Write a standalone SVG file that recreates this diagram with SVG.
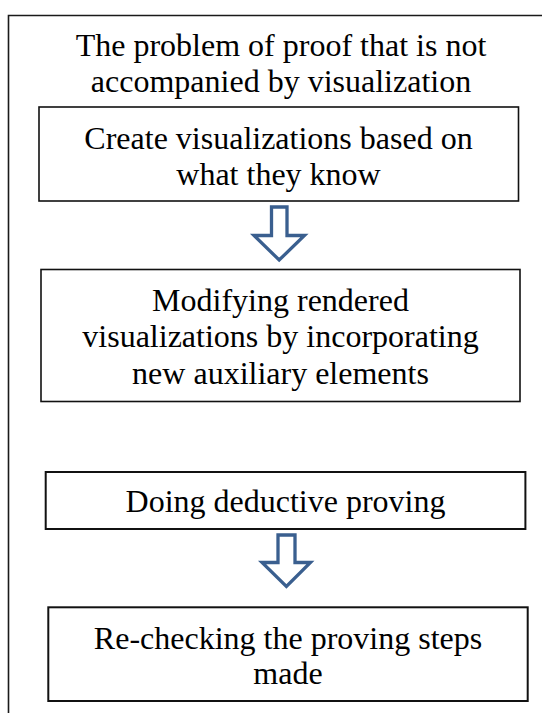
<svg xmlns="http://www.w3.org/2000/svg" width="542" height="713" viewBox="0 0 542 713">
  <style>
    .bg { fill: #ffffff; }
    .frame { fill: none; stroke: #1a1a1a; stroke-width: 1.6; }
    .box { fill: #ffffff; stroke: #111111; stroke-width: 1.6; }
    .box2 { fill: #ffffff; stroke: #111111; stroke-width: 2; }
    .txt { font-family: "Liberation Serif", "Times New Roman", serif; font-size: 32px; fill: #000000; text-anchor: middle; }
    .arrow { fill: #ffffff; stroke: #3a5f8f; stroke-width: 3.3; stroke-linejoin: miter; }
  </style>
  <rect class="bg" x="0" y="0" width="542" height="713"/>
  <path class="frame" d="M 8.5 713 V 15.5 H 542"/>

  <g id="title">
    <text class="txt" x="281" y="55.5">The problem of proof that is not</text>
    <text class="txt" x="281" y="91.5">accompanied by visualization</text>
  </g>

  <g id="node1">
    <rect class="box" x="39" y="107" width="479.5" height="94"/>
    <text class="txt" x="278.5" y="148.5">Create visualizations based on</text>
    <text class="txt" x="278.5" y="184.5">what they know</text>
  </g>

  <g id="node2">
    <rect class="box" x="41" y="269.5" width="479" height="132"/>
    <text class="txt" x="280.5" y="311">Modifying rendered</text>
    <text class="txt" x="280.5" y="347">visualizations by incorporating</text>
    <text class="txt" x="280.5" y="383.5">new auxiliary elements</text>
  </g>

  <g id="node3">
    <rect class="box2" x="45.7" y="472" width="479.7" height="57"/>
    <text class="txt" x="285.5" y="512">Doing deductive proving</text>
  </g>

  <g id="node4">
    <rect class="box2" x="48.3" y="607.3" width="479.4" height="93.7"/>
    <text class="txt" x="288" y="648.5">Re-checking the proving steps</text>
    <text class="txt" x="288" y="683.5">made</text>
  </g>

  <g id="connectors">
    <path class="arrow" d="M 271.5 207 H 287 V 235.5 H 304.5 L 279.2 260 L 254 235.5 H 271.5 Z"/>
    <path class="arrow" d="M 278 535 H 295 V 562.5 H 310.5 L 286.4 586.5 L 262 562.5 H 278 Z"/>
  </g>
</svg>
